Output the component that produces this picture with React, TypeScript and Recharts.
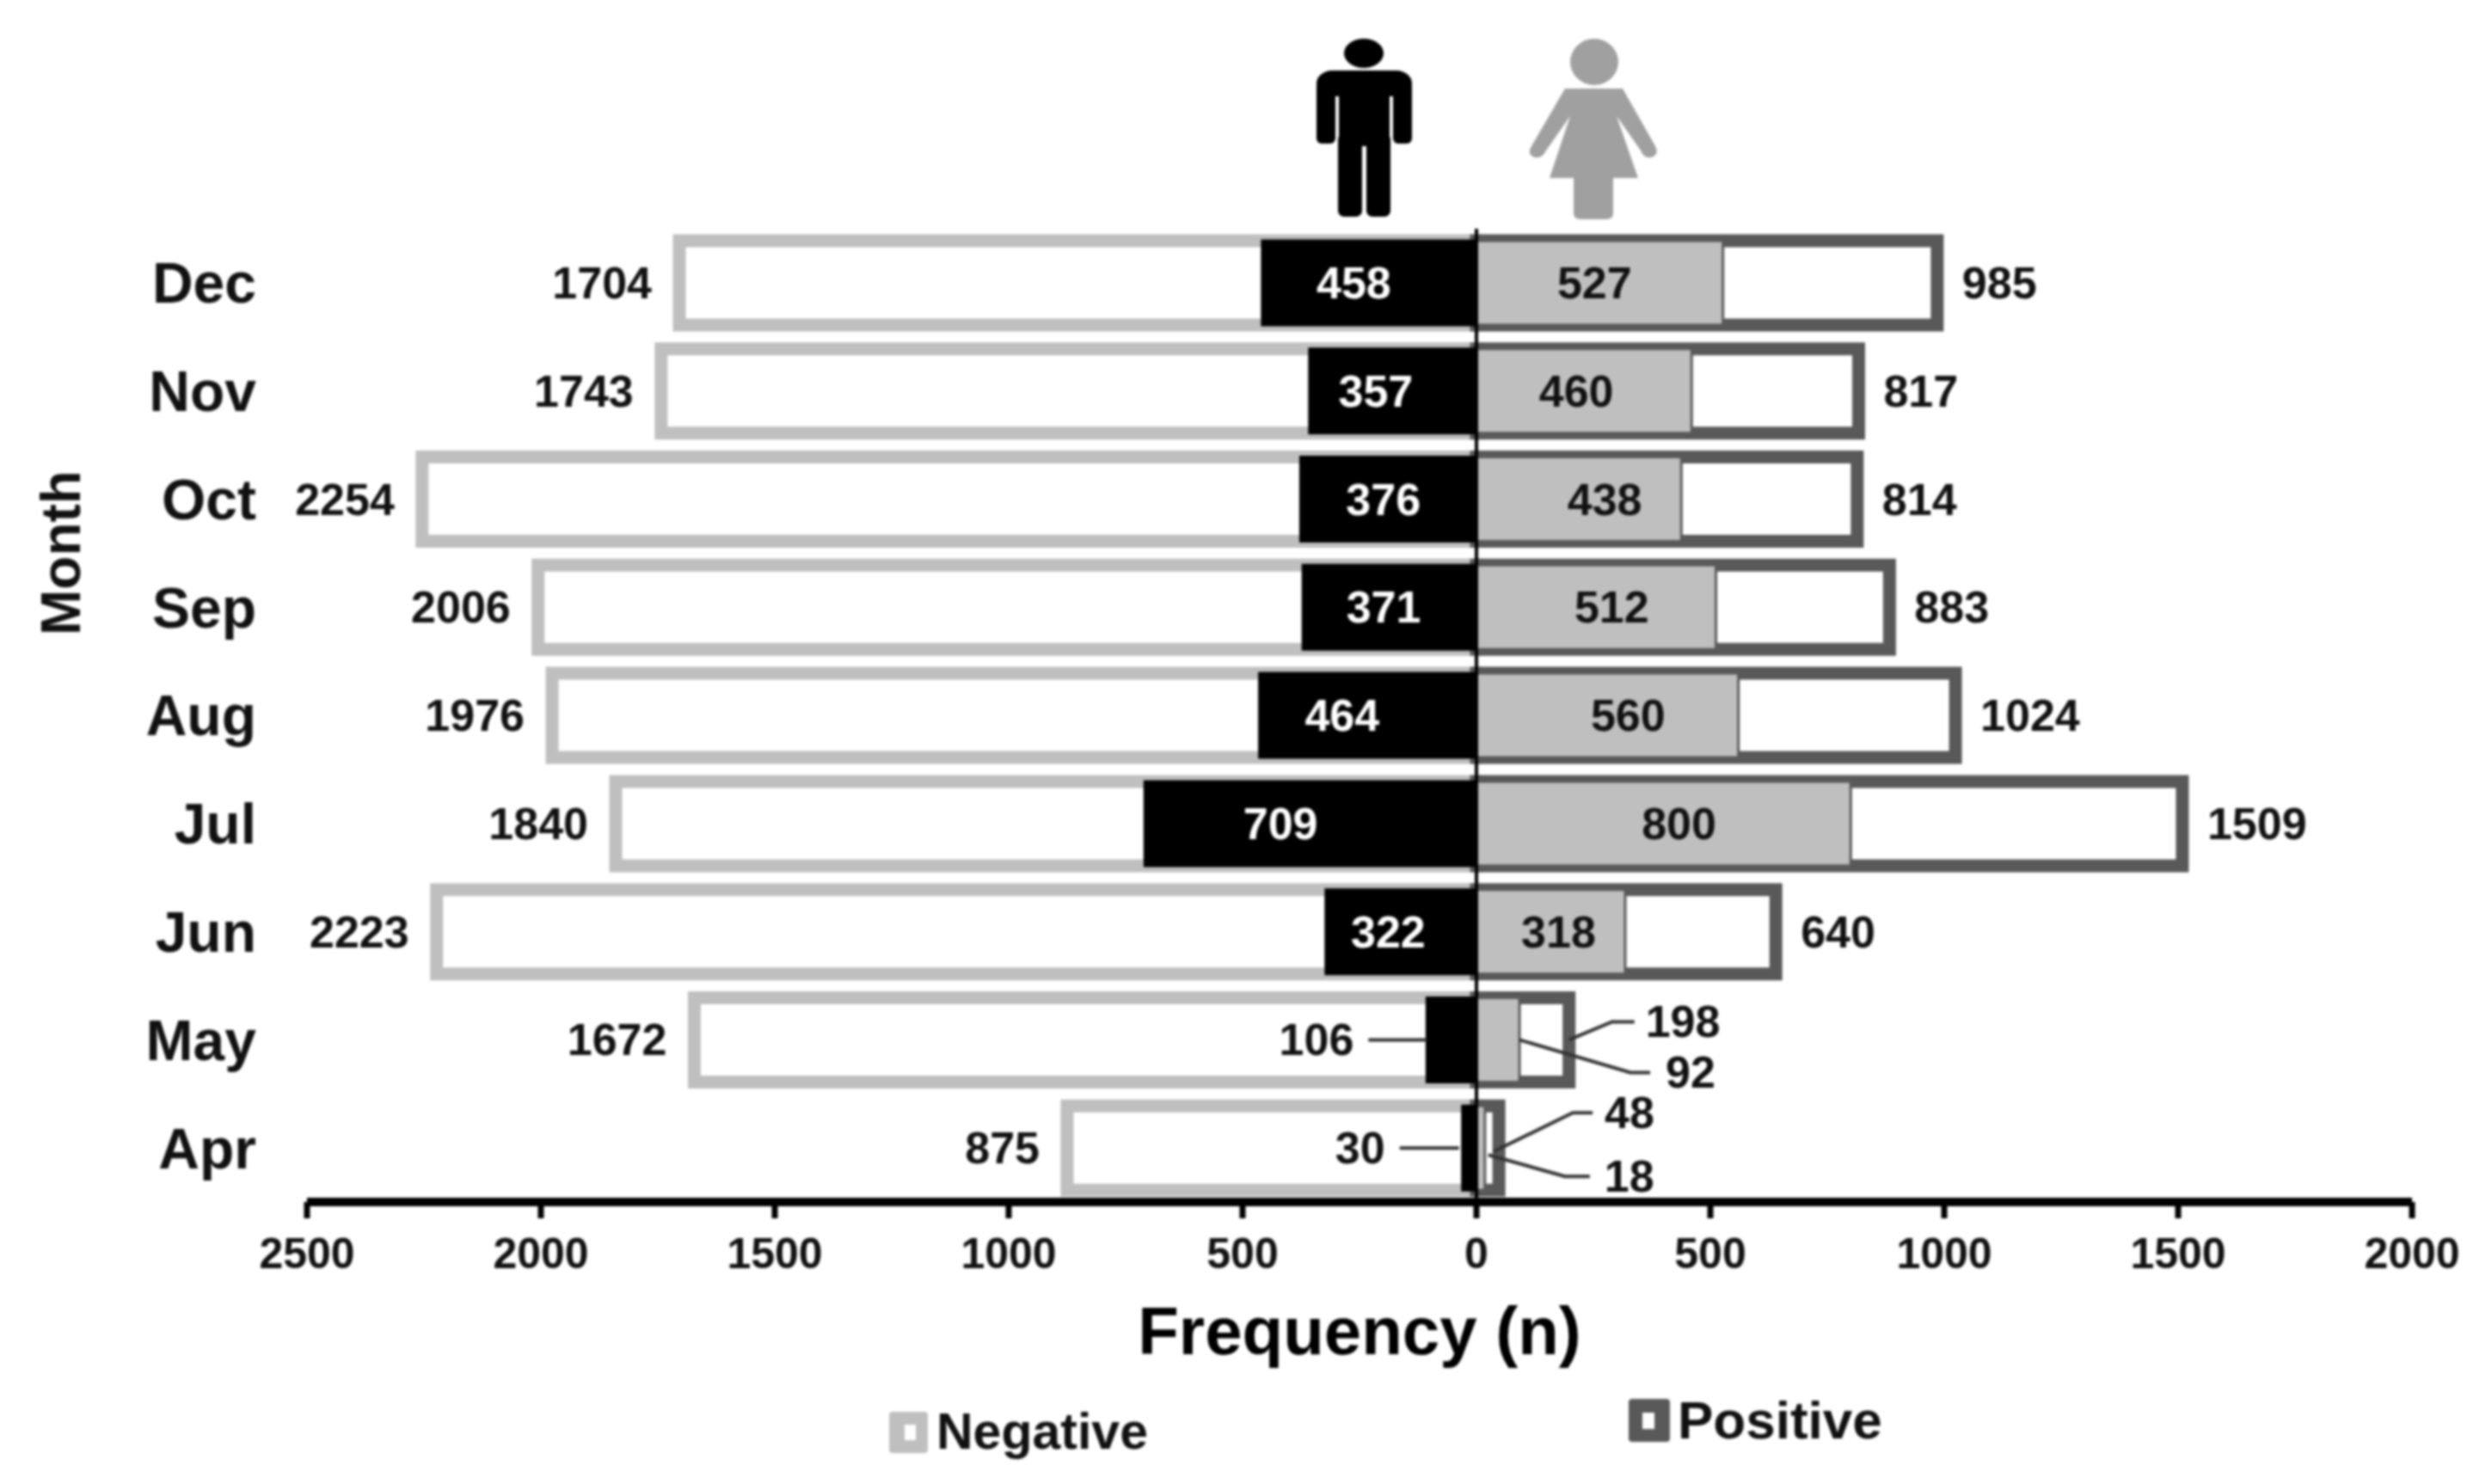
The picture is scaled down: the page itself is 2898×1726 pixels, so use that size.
import { BarChart, Bar, XAxis, YAxis, ReferenceLine, LabelList, Legend } from "recharts";

const months = ["Dec", "Nov", "Oct", "Sep", "Aug", "Jul", "Jun", "May", "Apr"];
const menNegative = [1704, 1743, 2254, 2006, 1976, 1840, 2223, 1672, 875];
const menPositive = [458, 357, 376, 371, 464, 709, 322, 106, 30];
const womenTotal = [985, 817, 814, 883, 1024, 1509, 640, 198, 48];
const womenNegative = [527, 460, 438, 512, 560, 800, 318, 92, 18];
const xTicks = [-2500, -2000, -1500, -1000, -500, 0, 500, 1000, 1500, 2000];

const rows = months.map((month, i) => ({
  month,
  menNegative: -menNegative[i],
  menPositive: -menPositive[i],
  womenTotal: womenTotal[i],
  womenNegative: womenNegative[i],
}));

const FONT = "'Liberation Sans', Arial, sans-serif";
const LIGHT = "#bfbfbf";
const DARK = "#595959";
const LABEL_SIZE = 52;

// hand placed label shifts, px from the middle of the inner bar
const menShift = [-18, -20, -6, -7, -30, -35, -15];
const womenShift = [-6, -9, 30, 18, 24, 18, 9];

// leaders for the small bars, px from the bar end and row centre
const leaders: Record<string, { pts: number[][]; dx: number; dy: number; anchor: string }> = {
  "men-7": { pts: [[-68, 0], [0, 0]], dx: -85, dy: 0, anchor: "end" },
  "men-8": { pts: [[-73, 0], [-4, 0]], dx: -90, dy: 0, anchor: "end" },
  "total-7": { pts: [[0, 0], [50, -21], [76, -21]], dx: 89, dy: -21, anchor: "start" },
  "neg-7": { pts: [[0, 0], [129, 38], [152, 38]], dx: 170, dy: 38, anchor: "start" },
  "total-8": { pts: [[-6, 4], [86, -41], [109, -41]], dx: 123, dy: -41, anchor: "start" },
  "neg-8": { pts: [[4, 8], [93, 33], [122, 33]], dx: 139, dy: 33, anchor: "start" },
};

function ValueText({ x, y, value, anchor = "middle", fill = "#111" }: any) {
  return (
    <text x={x} y={y} dy={18} textAnchor={anchor} fontFamily={FONT} fontWeight={700} fontSize={LABEL_SIZE} fill={fill}>
      {Math.abs(value)}
    </text>
  );
}

const outerLabel = (key: string, side: number) => (p: any) => {
  const end = p.x + p.width;
  const mid = p.y + p.height / 2;
  const lead = leaders[`${key}-${p.index}`];
  if (lead) return <Leader end={end} mid={mid} lead={lead} value={p.value} />;
  return <ValueText x={end + side * (side < 0 ? 32 : 29)} y={mid} value={p.value} anchor={side < 0 ? "end" : "start"} />;
};

const innerLabel = (key: string, shifts: number[], fill: string) => (p: any) => {
  const end = p.x + p.width;
  const mid = p.y + p.height / 2;
  const lead = leaders[`${key}-${p.index}`];
  if (lead) return <Leader end={end} mid={mid} lead={lead} value={p.value} />;
  return <ValueText x={p.x + p.width / 2 + shifts[p.index]} y={mid} value={p.value} fill={fill} />;
};

function Leader({ end, mid, lead, value }: any) {
  return (
    <g>
      <polyline
        points={lead.pts.map((q: number[]) => `${end + q[0]},${mid + q[1]}`).join(" ")}
        fill="none"
        stroke="#333"
        strokeWidth={4}
      />
      <ValueText x={end + lead.dx} y={mid + lead.dy} value={value} anchor={lead.anchor} />
    </g>
  );
}

function FrequencyTick({ x, y, payload }: any) {
  return (
    <g>
      <rect x={x - 3.5} y={y} width={7} height={19} fill="#000" />
      <text x={x} y={y + 77} textAnchor="middle" fontFamily={FONT} fontWeight={700} fontSize={50} fill="#111">
        {Math.abs(payload.value)}
      </text>
    </g>
  );
}

function Man() {
  return (
    <g fill="#000">
      <ellipse cx={1586} cy={62} rx={23} ry={17} />
      <rect x={1531} y={82} width={111} height={30} rx={18} />
      <rect x={1531} y={95} width={22} height={72} rx={6} />
      <rect x={1620} y={95} width={22} height={72} rx={6} />
      <rect x={1557} y={85} width={59} height={85} />
      <rect x={1556} y={155} width={28} height={97} rx={7} />
      <rect x={1589} y={155} width={28} height={97} rx={7} />
    </g>
  );
}

function Woman() {
  return (
    <g fill="#a0a0a0">
      <ellipse cx={1854} cy={72} rx={28} ry={27} />
      <path d="M1820 103 H1887 L1925 170 Q1930 180 1920 183 Q1912 185 1908 175 L1880 135 L1905 207 H1876 V248 Q1876 255 1868 255 H1838 Q1830 255 1830 248 V207 H1802 L1826 135 L1798 175 Q1793 185 1785 183 Q1775 180 1781 170 Z" />
    </g>
  );
}

const swatchSpots: Record<string, { fill: string; box: number[]; hole: number[]; text: number[]; size: number }> = {
  Negative: { fill: LIGHT, box: [1034, 1642, 45, 48], hole: [1052, 1657, 13, 18], text: [1089, 1685], size: 59 },
  Positive: { fill: DARK, box: [1894, 1627, 48, 50], hole: [1910, 1643, 14, 19], text: [1951, 1673], size: 62 },
};

function LegendMarks({ payload }: any) {
  return (
    <svg width={2898} height={1726} style={{ position: "absolute", left: 0, top: 0, pointerEvents: "none" }}>
      {(payload || []).map((item: any) => {
        const spot = swatchSpots[item.value];
        if (!spot) return null;
        return (
          <g key={item.value}>
            <rect x={spot.box[0]} y={spot.box[1]} width={spot.box[2]} height={spot.box[3]} rx={4} fill={spot.fill} />
            <rect x={spot.hole[0]} y={spot.hole[1]} width={spot.hole[2]} height={spot.hole[3]} fill="#fff" />
            <text x={spot.text[0]} y={spot.text[1]} fontFamily={FONT} fontWeight={700} fontSize={spot.size} fill="#111">
              {item.value}
            </text>
          </g>
        );
      })}
    </svg>
  );
}

function MonthTitle() {
  return (
    <text
      transform="translate(93 643) rotate(-90)"
      textAnchor="middle"
      fontFamily={FONT}
      fontWeight={700}
      fontSize={64}
      fill="#111"
    >
      Month
    </text>
  );
}

export default function App() {
  return (
    <div style={{ position: "absolute", left: 0, top: 0, width: 2898, height: 1726, background: "#fff", filter: "blur(1.4px)" }}>
      <BarChart
        width={2898}
        height={1726}
        data={rows}
        layout="vertical"
        barSize={98}
        barGap={-98}
        margin={{ top: 266, right: 93, bottom: 228, left: 157 }}
      >
        <XAxis
          type="number"
          domain={[-2500, 2000]}
          ticks={xTicks}
          interval={0}
          height={100}
          axisLine={{ stroke: "#000", strokeWidth: 10 }}
          tickLine={false}
          tickSize={0}
          tickMargin={0}
          tick={FrequencyTick}
          label={{ value: "Frequency (n)", position: "insideBottom", offset: -77, fontFamily: FONT, fontWeight: 700, fontSize: 78, fill: "#000" }}
        />
        <YAxis
          type="category"
          dataKey="month"
          width={200}
          axisLine={false}
          tickLine={false}
          tickSize={0}
          tickMargin={59}
          tick={{ fontFamily: FONT, fontWeight: 700, fontSize: 66, fill: "#111" }}
        />
        <Bar dataKey="menNegative" name="Negative" fill="#fff" stroke={LIGHT} strokeWidth={15} isAnimationActive={false}>
          <LabelList dataKey="menNegative" content={outerLabel("none", -1)} />
        </Bar>
        <Bar dataKey="womenTotal" name="Positive" fill="#fff" stroke={DARK} strokeWidth={15} isAnimationActive={false}>
          <LabelList dataKey="womenTotal" content={outerLabel("total", 1)} />
        </Bar>
        <Bar dataKey="menPositive" legendType="none" fill="#000" stroke="#000" strokeWidth={3} isAnimationActive={false}>
          <LabelList dataKey="menPositive" content={innerLabel("men", menShift, "#fff")} />
        </Bar>
        <Bar dataKey="womenNegative" legendType="none" fill={LIGHT} stroke={DARK} strokeWidth={3} isAnimationActive={false}>
          <LabelList dataKey="womenNegative" content={innerLabel("neg", womenShift, "#111")} />
        </Bar>
        <ReferenceLine x={0} stroke="#000" strokeWidth={4} />
        <Legend verticalAlign="middle" align="center" content={LegendMarks} wrapperStyle={{ position: "absolute", left: 0, top: 0, width: 0, height: 0 }} />
        <Man />
        <Woman />
        <MonthTitle />
      </BarChart>
    </div>
  );
}
